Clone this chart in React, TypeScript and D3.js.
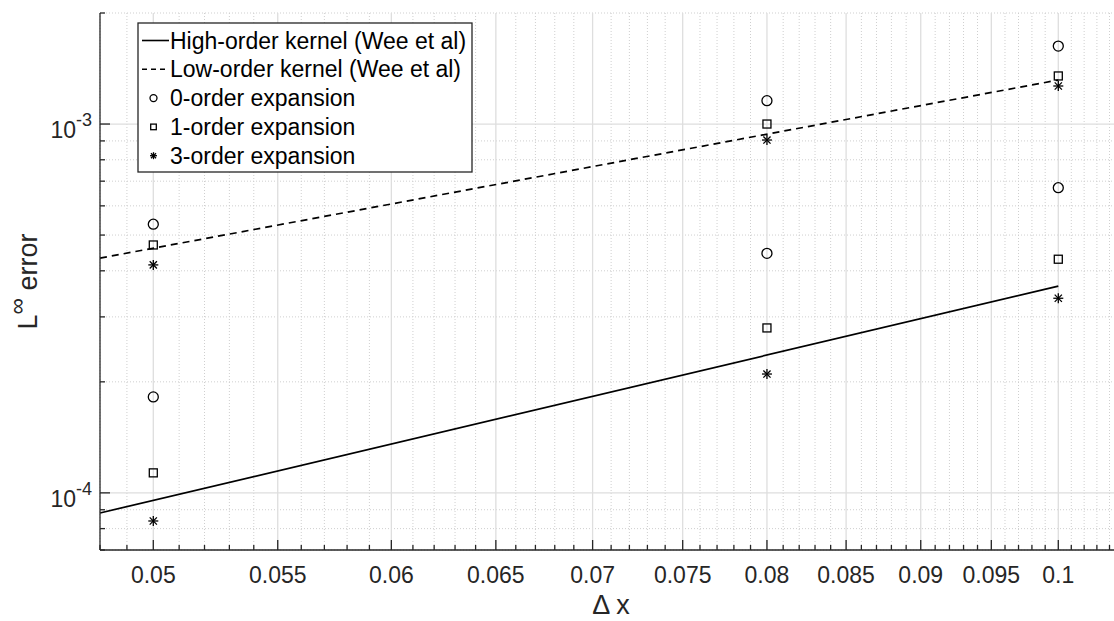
import React from "react";
import * as d3 from "d3";

// Grid spacings (Δx) where the expansions were evaluated
const dxValues = [0.05, 0.08, 0.1];

// Errors obtained alongside the low-order kernel
const order0Low = [5.35e-4, 1.157e-3, 1.627e-3];
const order1Low = [4.7e-4, 1.0e-3, 1.35e-3];
const order3Low = [4.15e-4, 9.05e-4, 1.268e-3];

// Errors obtained alongside the high-order kernel
const order0High = [1.82e-4, 4.46e-4, 6.72e-4];
const order1High = [1.133e-4, 2.8e-4, 4.3e-4];
const order3High = [8.39e-5, 2.1e-4, 3.37e-4];

// Reference kernel curves (Wee et al)
const kernelDx = [0.048, 0.1];
const highKernelErr = [8.82e-5, 3.636e-4];
const lowKernelErr = [4.33e-4, 1.316e-3];

// Axis ticks
const xTicks = [0.05, 0.055, 0.06, 0.065, 0.07, 0.075, 0.08, 0.085, 0.09, 0.095, 0.1];
const xTickLabels = ["0.05", "0.055", "0.06", "0.065", "0.07", "0.075", "0.08", "0.085", "0.09", "0.095", "0.1"];
const yTicks = [1e-4, 1e-3];
const yTickExponents = ["-4", "-3"];

const legendItems = [
  { label: "High-order kernel (Wee et al)", kind: "solid" },
  { label: "Low-order kernel (Wee et al)", kind: "dashed" },
  { label: "0-order expansion", kind: "circle" },
  { label: "1-order expansion", kind: "square" },
  { label: "3-order expansion", kind: "star" },
];

const W = 1114;
const H = 621;
const left = 100;
const right = 1122;
const top = 13;
const bottom = 550;

const FONT = "'Liberation Sans', Arial, Helvetica, sans-serif";
const AXIS = "#262626";
const GRID = "#dedede";
const MINOR = "#cfcfcf";

function Marker({ kind, cx, cy, s }: { kind: string; cx: number; cy: number; s: number }) {
  if (kind === "circle") {
    return <circle cx={cx} cy={cy} r={s} fill="none" stroke="#000" strokeWidth={1.3} />;
  }
  if (kind === "square") {
    return <rect x={cx - s * 0.8} y={cy - s * 0.8} width={s * 1.6} height={s * 1.6} fill="none" stroke="#000" strokeWidth={1.3} />;
  }
  const d = s * 0.72;
  return (
    <g stroke="#000" strokeWidth={1.3}>
      <line x1={cx - s} y1={cy} x2={cx + s} y2={cy} />
      <line x1={cx} y1={cy - s} x2={cx} y2={cy + s} />
      <line x1={cx - d} y1={cy - d} x2={cx + d} y2={cy + d} />
      <line x1={cx - d} y1={cy + d} x2={cx + d} y2={cy - d} />
    </g>
  );
}

export default function App() {
  const x = d3.scaleLog().domain([0.048, 0.105]).range([left, right]);
  const y = d3.scaleLog().domain([7e-5, 2e-3]).range([bottom, top]);

  // minor x positions every 0.001
  const xMinor: number[] = [];
  for (let i = 48; i <= 105; i++) {
    const v = i / 1000;
    if (!xTicks.some((t) => Math.abs(t - v) < 1e-9)) xMinor.push(v);
  }
  const yMinor: number[] = [];
  [1e-5, 1e-4, 1e-3].forEach((dec) => {
    for (let k = 2; k <= 9; k++) {
      const v = k * dec;
      if (v >= 7e-5 && v <= 2e-3 + 1e-12) yMinor.push(v);
    }
  });

  const line = d3
    .line<number>()
    .x((_, i) => x(kernelDx[i]))
    .y((d) => y(d));

  const groups = [
    { kind: "circle", vals: [order0Low, order0High] },
    { kind: "square", vals: [order1Low, order1High] },
    { kind: "star", vals: [order3Low, order3High] },
  ];

  const legX = 138;
  const legY = 23;
  const legW = 334;
  const legH = 149;
  const rowH = 28.8;

  return (
    <svg
      width={W}
      height={H}
      style={{ position: "absolute", left: 0, top: 0, background: "#fff" }}
      fontFamily={FONT}
    >
      <rect x={0} y={0} width={W} height={H} fill="#fff" />
      {/* grid */}
      <g>
        {xMinor.map((v) => (
          <line key={"xm" + v} x1={x(v)} x2={x(v)} y1={top} y2={bottom} stroke={MINOR} strokeWidth={1} strokeDasharray="1,2" />
        ))}
        {yMinor.map((v) => (
          <line key={"ym" + v} x1={left} x2={right} y1={y(v)} y2={y(v)} stroke={MINOR} strokeWidth={1} strokeDasharray="1,2" />
        ))}
        {xTicks.map((v) => (
          <line key={"xg" + v} x1={x(v)} x2={x(v)} y1={top} y2={bottom} stroke={GRID} strokeWidth={1.3} />
        ))}
        {yTicks.map((v) => (
          <line key={"yg" + v} x1={left} x2={right} y1={y(v)} y2={y(v)} stroke={GRID} strokeWidth={1.3} />
        ))}
      </g>

      {/* reference kernel curves */}
      <path d={line(highKernelErr) || ""} fill="none" stroke="#000" strokeWidth={1.7} />
      <path d={line(lowKernelErr) || ""} fill="none" stroke="#000" strokeWidth={1.7} strokeDasharray="7,5" />

      {/* expansion errors */}
      {groups.map((g) =>
        g.vals.map((series, si) =>
          series.map((v, i) => (
            <Marker key={g.kind + si + i} kind={g.kind} cx={x(dxValues[i])} cy={y(v)} s={5} />
          ))
        )
      )}

      {/* axes */}
      <g stroke={AXIS} strokeWidth={1.3}>
        <line x1={left} x2={left} y1={top} y2={bottom} />
        <line x1={left} x2={right} y1={bottom} y2={bottom} />
        {xTicks.map((v) => (
          <line key={"xt" + v} x1={x(v)} x2={x(v)} y1={bottom} y2={bottom - 10} />
        ))}
        {xMinor.map((v) => (
          <line key={"xmt" + v} x1={x(v)} x2={x(v)} y1={bottom} y2={bottom - 5} />
        ))}
        {yTicks.map((v) => (
          <line key={"yt" + v} x1={left} x2={left + 10} y1={y(v)} y2={y(v)} />
        ))}
        {yMinor.map((v) => (
          <line key={"ymt" + v} x1={left} x2={left + 5} y1={y(v)} y2={y(v)} />
        ))}
      </g>

      {/* tick labels */}
      <g fill={AXIS} fontSize={23}>
        {xTicks.map((v, i) => (
          <text key={"xl" + v} x={x(v)} y={583} textAnchor="middle">
            {xTickLabels[i]}
          </text>
        ))}
        {yTicks.map((v, i) => (
          <text key={"yl" + v} x={92} y={y(v) + 14} textAnchor="end">
            10
            <tspan fontSize={18} dy={-12}>
              {yTickExponents[i]}
            </tspan>
          </text>
        ))}
      </g>

      {/* axis titles */}
      <text x={(left + right) / 2} y={614} textAnchor="middle" fontSize={27} fill={AXIS}>
        Δ x
      </text>
      <text
        transform={`translate(37, ${(top + bottom) / 2}) rotate(-90)`}
        textAnchor="middle"
        fontSize={27}
        fill={AXIS}
      >
        L
        <tspan fontSize={23} dy={-12}>∞</tspan>
        <tspan dy={12}> error</tspan>
      </text>

      {/* legend */}
      <g>
        <rect x={legX} y={legY} width={legW} height={legH} fill="#fff" stroke={AXIS} strokeWidth={1.3} />
        {legendItems.map((it, i) => {
          const cy = legY + 17.5 + i * rowH;
          let sym: React.ReactNode = null;
          if (it.kind === "solid") {
            sym = <line x1={142} x2={169} y1={cy} y2={cy} stroke="#000" strokeWidth={1.6} />;
          } else if (it.kind === "dashed") {
            sym = <line x1={142} x2={169} y1={cy} y2={cy} stroke="#000" strokeWidth={1.6} strokeDasharray="5,4" />;
          } else {
            sym = <Marker kind={it.kind} cx={153.5} cy={cy} s={3.5} />;
          }
          return (
            <g key={it.label}>
              {sym}
              <text x={170} y={cy + 8} fontSize={23} fill="#000">
                {it.label}
              </text>
            </g>
          );
        })}
      </g>
    </svg>
  );
}
